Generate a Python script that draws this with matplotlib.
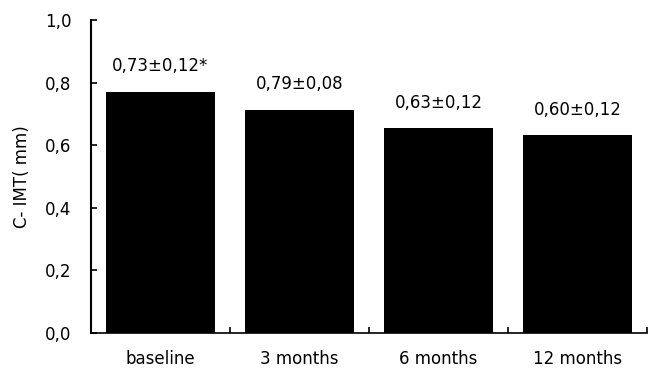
import matplotlib.pyplot as plt
from matplotlib.ticker import FixedLocator

# C-IMT over follow-up
timepoints = ['baseline', '3 months', '6 months', '12 months']
bar_heights = [0.771, 0.714, 0.654, 0.632]
bar_labels = ['0,73\u00b10,12*', '0,79\u00b10,08', '0,63\u00b10,12', '0,60\u00b10,12']
y_ticks = [0.0, 0.2, 0.4, 0.6, 0.8, 1.0]
y_tick_labels = ['0,0', '0,2', '0,4', '0,6', '0,8', '1,0']

plt.rcParams['font.family'] = ['DejaVu Sans']
plt.rcParams['font.size'] = 12

fig = plt.figure(figsize=(6.48, 3.77), dpi=100)
ax = fig.add_axes([0.1404, 0.1167, 0.8581, 0.8303])

x = range(len(timepoints))
bars = ax.bar(x, bar_heights, width=0.78, color='black')

for rect, txt in zip(bars, bar_labels):
    ax.annotate(txt, (rect.get_x() + rect.get_width() / 2, rect.get_height()),
                xytext=(0, 12), textcoords='offset points',
                ha='center', va='bottom')

ax.set_xlim(-0.5, len(timepoints) - 0.5)
ax.set_ylim(0, 1.0)

ax.set_yticks(y_ticks)
ax.set_yticklabels(y_tick_labels)
ax.tick_params(axis='y', direction='in', length=4, width=1.2, pad=14)

ax.set_xticks(list(x))
ax.set_xticklabels(timepoints)
ax.tick_params(axis='x', which='major', length=0, pad=12)
ax.xaxis.set_minor_locator(FixedLocator([0.5, 1.5, 2.5, 3.5]))
ax.tick_params(axis='x', which='minor', direction='in', length=4, width=1.2)

ax.set_ylabel('C- IMT( mm)', fontsize=12, labelpad=10)

for side in ['top', 'right']:
    ax.spines[side].set_visible(False)
ax.spines['left'].set_linewidth(1.5)
ax.spines['bottom'].set_linewidth(1.2)

fig.savefig('out.png', dpi=100)
